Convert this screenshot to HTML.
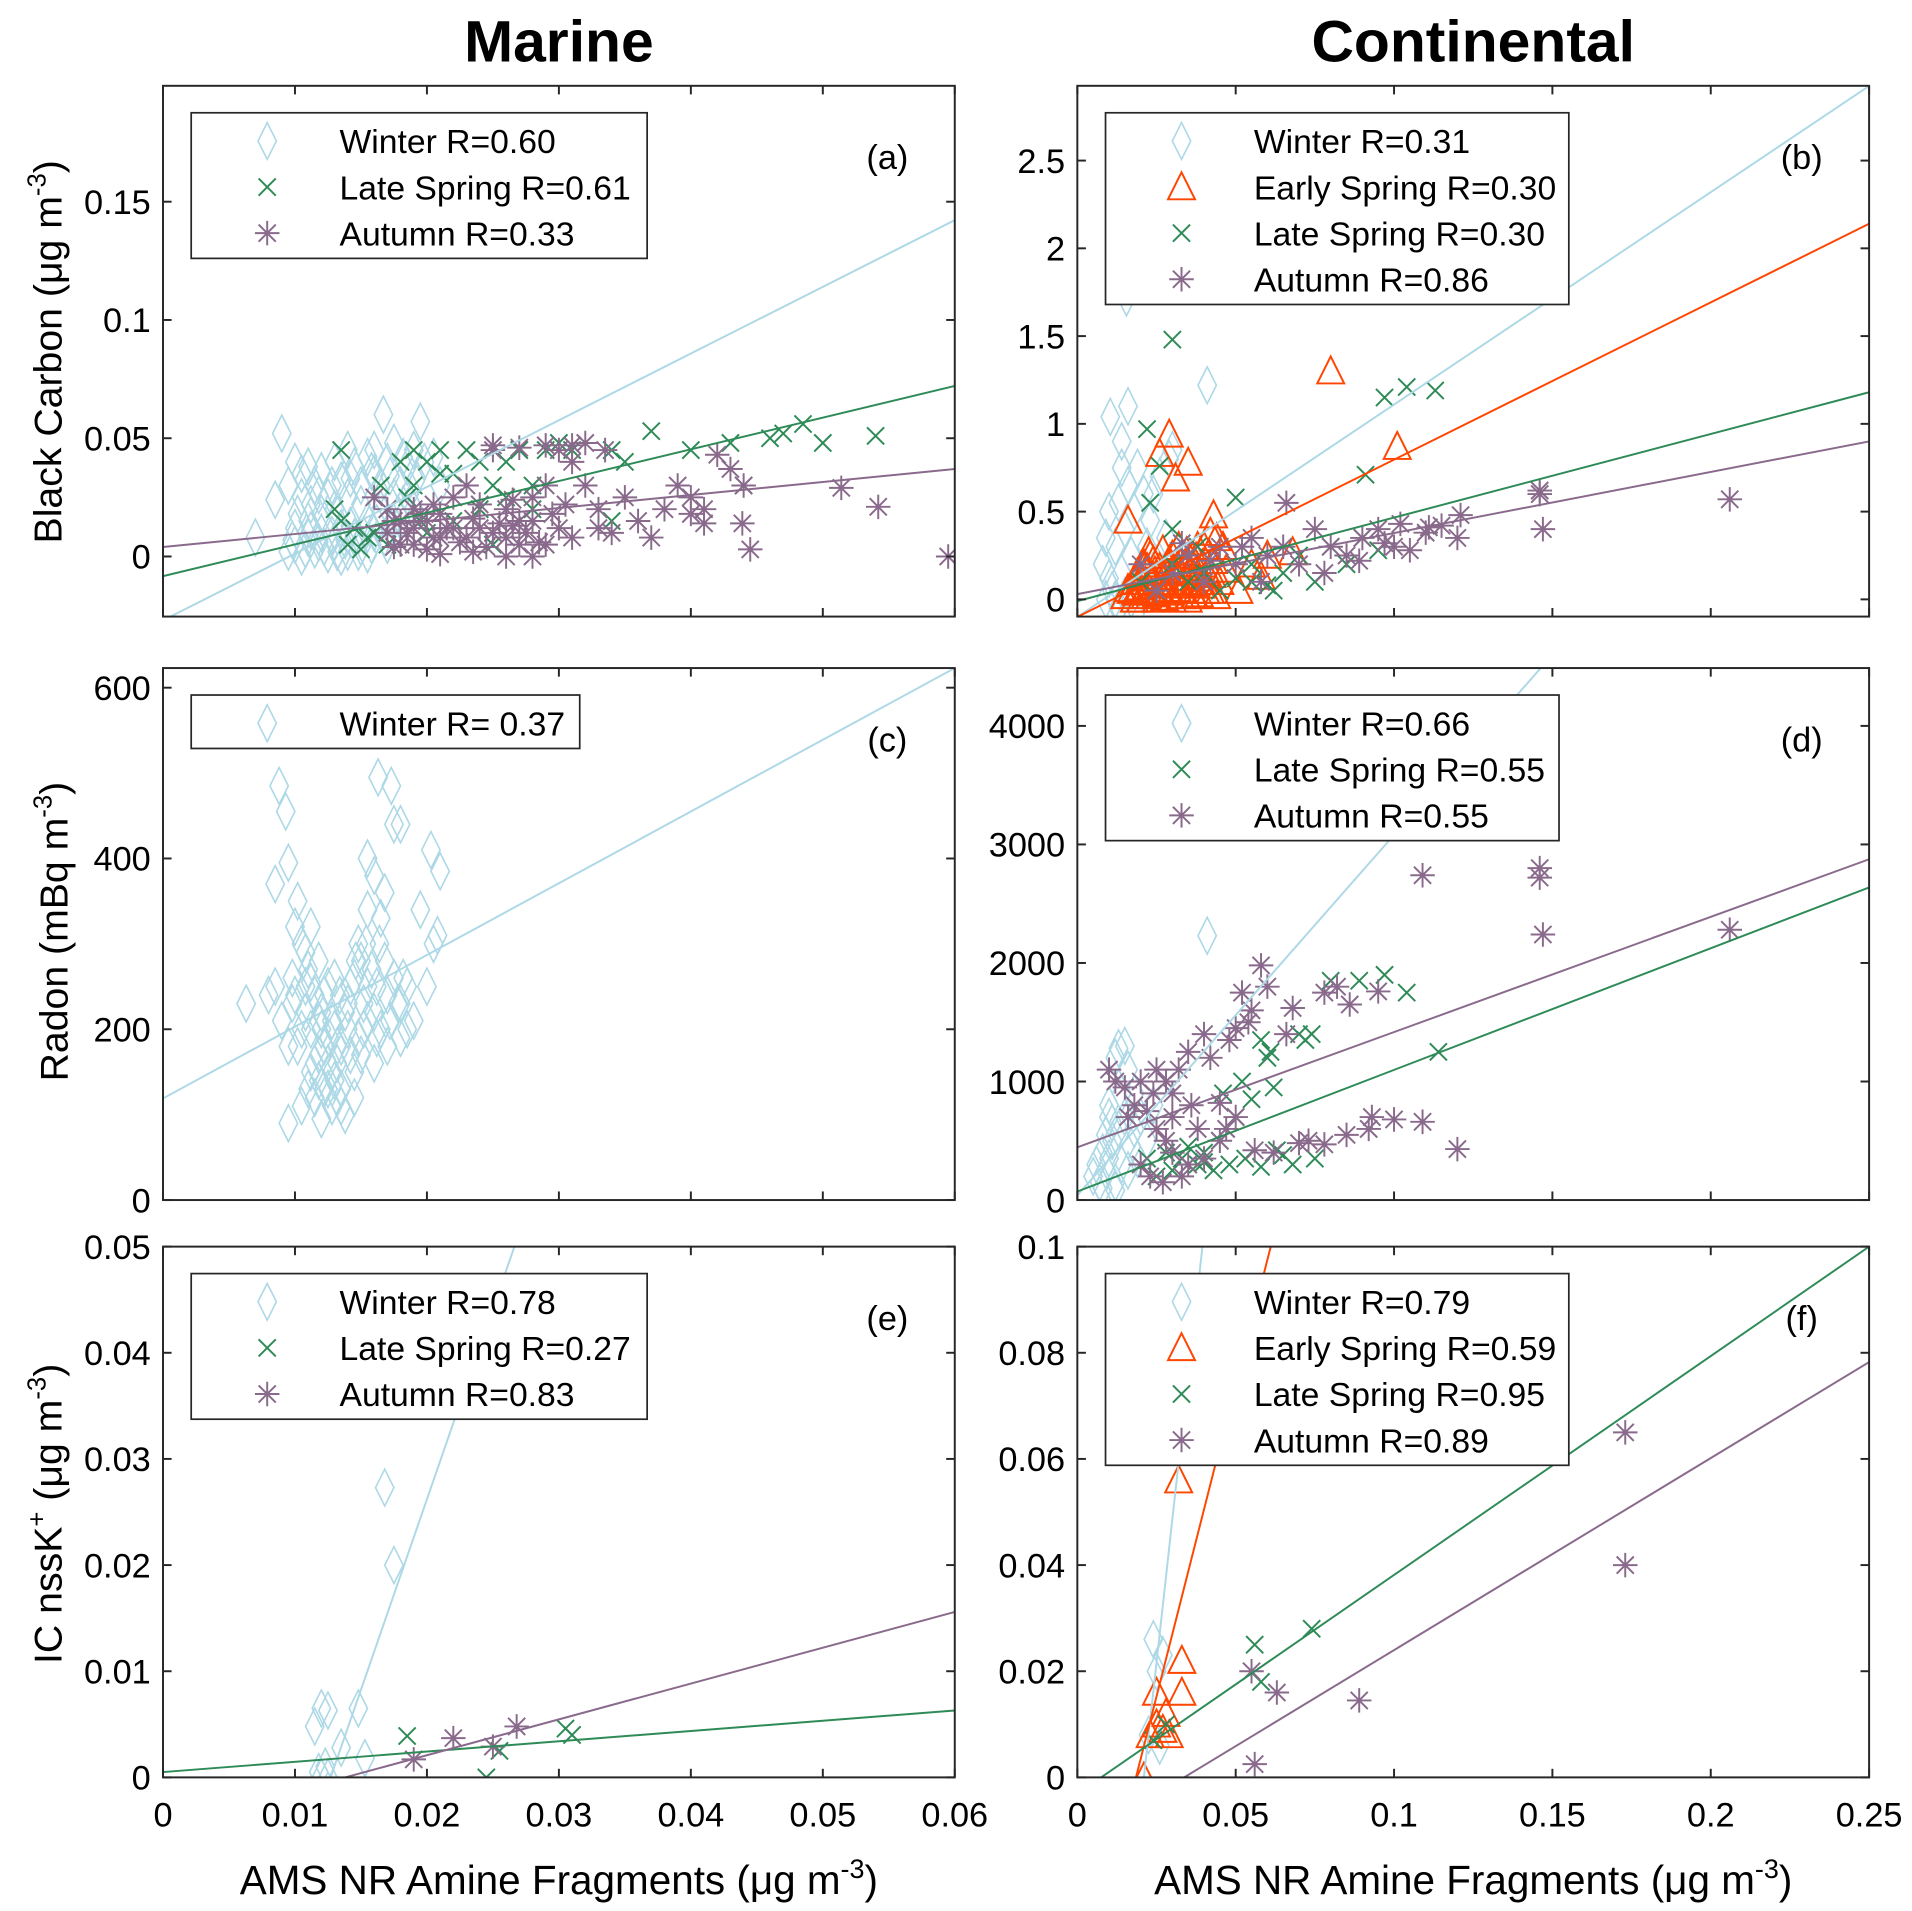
<!DOCTYPE html>
<html><head><meta charset="utf-8"><style>
html,body{margin:0;padding:0;background:#fff;width:1912px;height:1911px;overflow:hidden}
svg{display:block}
text{font-family:"Liberation Sans",Arial,sans-serif;fill:#000}
</style></head><body>
<svg id="fig" width="1912" height="1911" viewBox="0 0 1560 1559" preserveAspectRatio="none" xmlns="http://www.w3.org/2000/svg"></svg>
<script>
// ---------- DATA ----------
const aWinter=[[0.007,0.008],[0.009,0.052],[0.0085,0.024],[0.010,0.040],[0.0105,0.035],[0.011,0.038],[0.0115,0.030],[0.012,0.036],[0.0125,0.025],[0.013,0.040],[0.0135,0.032],[0.014,0.045],[0.0145,0.038],[0.015,0.030],[0.0155,0.042],[0.016,0.035],[0.0167,0.060],[0.017,0.040],[0.0175,0.048],[0.018,0.030],[0.0195,0.057],[0.019,0.045],[0.0205,0.042],[0.021,0.030],[0.0095,0.002],[0.010,0.005],[0.0105,0.0],[0.011,0.008],[0.0115,0.003],[0.012,0.010],[0.0125,0.001],[0.013,0.006],[0.0135,0.012],[0.014,0.002],[0.0145,0.008],[0.015,0.004],[0.0155,0.015],[0.016,0.010],[0.0165,0.020],[0.017,0.005],[0.0175,0.025],[0.018,0.015],[0.012,0.018],[0.011,0.015],[0.010,0.012],[0.013,0.020],[0.014,0.025],[0.015,0.022],[0.0105,0.025],[0.0095,0.030],[0.0165,0.030],[0.019,0.020],[0.0185,0.038],[0.0135,0.0],[0.0155,0.001],[0.016,0.045],[0.0098,0.007],[0.0108,0.003],[0.0112,0.011],[0.0118,0.006],[0.0122,0.004],[0.0128,0.009],[0.0132,0.002],[0.0138,0.007],[0.0142,0.013],[0.0148,0.002],[0.0152,0.009],[0.0158,0.005],[0.0162,0.014],[0.0168,0.008],[0.0172,0.012],[0.0178,0.018],[0.0182,0.022],[0.0188,0.028],[0.0192,0.033],[0.0198,0.040],[0.0112,0.022],[0.0128,0.030],[0.0142,0.033],[0.0158,0.036],[0.0172,0.034],[0.0182,0.042],[0.0102,0.018],[0.0118,0.026]];
const aSpring=[[0.0135,0.045],[0.013,0.02],[0.0135,0.015],[0.014,0.005],[0.015,0.003],[0.016,0.01],[0.017,0.02],[0.018,0.04],[0.019,0.03],[0.019,0.045],[0.020,0.04],[0.021,0.045],[0.022,0.035],[0.023,0.045],[0.024,0.02],[0.025,0.03],[0.026,0.04],[0.027,0.045],[0.028,0.03],[0.029,0.045],[0.030,0.048],[0.031,0.045],[0.034,0.045],[0.035,0.04],[0.034,0.015],[0.037,0.053],[0.040,0.045],[0.043,0.048],[0.044,0.03],[0.046,0.050],[0.047,0.052],[0.0485,0.056],[0.050,0.048],[0.054,0.051],[0.017,0.005],[0.020,0.01],[0.022,0.015],[0.025,0.005],[0.028,0.02],[0.0145,0.012],[0.0155,0.008],[0.0185,0.025],[0.021,0.035],[0.024,0.04],[0.026,0.025],[0.0165,0.03],[0.0195,0.015]];
const aAutumn=[[0.016,0.025],[0.017,0.01],[0.018,0.005],[0.019,0.02],[0.020,0.015],[0.021,0.008],[0.022,0.025],[0.023,0.03],[0.024,0.012],[0.025,0.045],[0.026,0.02],[0.027,0.005],[0.028,0.015],[0.029,0.03],[0.030,0.045],[0.031,0.04],[0.032,0.048],[0.033,0.02],[0.034,0.01],[0.035,0.025],[0.036,0.015],[0.038,0.02],[0.039,0.03],[0.040,0.025],[0.041,0.02],[0.042,0.043],[0.043,0.037],[0.041,0.014],[0.040,0.018],[0.044,0.030],[0.0445,0.003],[0.0439,0.014],[0.0514,0.029],[0.0542,0.021],[0.0595,0.0],[0.037,0.008],[0.033,0.012],[0.031,0.008],[0.029,0.005],[0.027,0.015],[0.025,0.01],[0.023,0.008],[0.021,0.018],[0.019,0.005],[0.018,0.015],[0.017,0.02],[0.020,0.003],[0.022,0.012],[0.024,0.022],[0.026,0.008],[0.028,0.025],[0.030,0.012],[0.032,0.03],[0.025,0.047],[0.027,0.046],[0.019,0.012],[0.021,0.001],[0.026,0.0],[0.028,0.0],[0.0175,0.015],[0.0185,0.01],[0.0195,0.018],[0.0205,0.022],[0.0215,0.012],[0.0225,0.006],[0.0235,0.016],[0.0245,0.004],[0.0255,0.014],[0.0265,0.024],[0.0275,0.01],[0.0285,0.006],[0.0295,0.018],[0.0305,0.022],[0.0175,0.004],[0.0205,0.008],[0.0235,0.002],[0.0265,0.013],[0.029,0.047],[0.031,0.047],[0.0335,0.045]];

const bWinter=[[0.0155,1.72],[0.041,1.22],[0.0104,1.04],[0.016,1.1],[0.014,0.9],[0.008,0.2],[0.009,0.35],[0.01,0.5],[0.012,0.3],[0.013,0.55],[0.014,0.15],[0.015,0.4],[0.016,0.65],[0.017,0.25],[0.018,0.5],[0.019,0.75],[0.02,0.1],[0.021,0.6],[0.022,0.3],[0.023,0.45],[0.024,0.05],[0.025,0.2],[0.026,0.7],[0.027,0.15],[0.028,0.35],[0.011,0.05],[0.012,0.0],[0.013,-0.05],[0.015,0.02],[0.017,0.0],[0.019,0.08],[0.021,0.02],[0.01,0.12],[0.009,0.0],[0.024,0.6],[0.029,0.8],[0.03,0.85],[0.014,0.75]];
const bEarly=[[0.080,1.30],[0.101,0.87],[0.029,0.94],[0.026,0.83],[0.031,0.69],[0.035,0.78],[0.016,0.45],[0.043,0.48],[0.058,0.13],[0.068,0.27],[0.047,0.17],[0.015,0.02],[0.017,0.05],[0.018,0.1],[0.019,0.15],[0.02,0.0],[0.021,0.2],[0.022,0.08],[0.023,0.25],[0.024,0.12],[0.025,0.03],[0.026,0.18],[0.027,0.28],[0.028,0.06],[0.029,0.22],[0.03,0.1],[0.031,0.15],[0.032,0.3],[0.033,0.05],[0.034,0.2],[0.035,0.12],[0.036,0.25],[0.037,0.02],[0.038,0.18],[0.039,0.08],[0.04,0.3],[0.041,0.15],[0.042,0.05],[0.043,0.22],[0.044,0.35],[0.045,0.1],[0.02,0.12],[0.022,0.18],[0.024,0.22],[0.026,0.05],[0.028,0.15],[0.03,0.25],[0.032,0.08],[0.034,0.12],[0.036,0.05],[0.038,0.3],[0.04,0.1],[0.018,0.0],[0.025,0.0],[0.03,0.0],[0.035,0.0],[0.042,0.38],[0.046,0.3],[0.051,0.05],[0.044,0.02],[0.06,0.25],[0.055,0.2],[0.016,0.06],[0.0185,0.04],[0.0195,0.07],[0.0215,0.1],[0.0235,0.04],[0.0245,0.16],[0.0265,0.09],[0.0275,0.13],[0.0285,0.2],[0.0295,0.04],[0.0305,0.17],[0.0315,0.06],[0.0325,0.22],[0.0335,0.1],[0.0345,0.27],[0.0355,0.16],[0.0365,0.09],[0.0375,0.24],[0.0385,0.12],[0.0395,0.2],[0.0405,0.05],[0.0415,0.26],[0.0425,0.14],[0.0215,0.02],[0.0275,0.01],[0.0325,0.02],[0.0385,0.03],[0.0205,0.2],[0.0225,0.27]];
const bLate=[[0.030,1.48],[0.097,1.15],[0.104,1.21],[0.113,1.19],[0.091,0.71],[0.022,0.97],[0.050,0.58],[0.026,0.76],[0.02,0.1],[0.025,0.05],[0.03,0.2],[0.035,0.1],[0.04,0.15],[0.045,0.05],[0.05,0.12],[0.055,0.2],[0.06,0.08],[0.065,0.15],[0.07,0.25],[0.075,0.1],[0.08,0.3],[0.085,0.2],[0.09,0.35],[0.095,0.28],[0.023,0.55],[0.03,0.4],[0.038,0.3],[0.055,0.1],[0.062,0.05]];
const bAutumn=[[0.146,0.62],[0.147,0.40],[0.206,0.57],[0.121,0.48],[0.111,0.41],[0.066,0.55],[0.02,0.2],[0.025,0.05],[0.03,0.15],[0.035,0.25],[0.04,0.1],[0.045,0.3],[0.05,0.2],[0.055,0.35],[0.06,0.25],[0.065,0.3],[0.07,0.2],[0.075,0.4],[0.08,0.3],[0.085,0.25],[0.09,0.35],[0.095,0.4],[0.1,0.3],[0.105,0.28],[0.11,0.38],[0.115,0.42],[0.12,0.35],[0.089,0.22],[0.078,0.15],[0.097,0.32],[0.102,0.43],[0.052,0.3],[0.058,0.1],[0.042,0.22],[0.033,0.32],[0.146,0.6]];

const cWinter=[[0.0063,230],[0.0085,370],[0.0088,485],[0.0093,455],[0.0095,395],[0.01,320],[0.0102,350],[0.0105,300],[0.011,270],[0.0112,255],[0.0115,240],[0.0118,210],[0.012,200],[0.0122,180],[0.0125,160],[0.0128,150],[0.013,140],[0.0132,120],[0.0135,110],[0.0138,100],[0.0095,90],[0.0105,110],[0.011,130],[0.0115,160],[0.012,220],[0.0125,250],[0.013,200],[0.0135,180],[0.014,230],[0.0145,260],[0.015,280],[0.0155,250],[0.016,220],[0.0165,200],[0.017,240],[0.0175,260],[0.018,230],[0.0185,200],[0.019,210],[0.02,250],[0.0205,300],[0.021,385],[0.0203,410],[0.018,440],[0.0163,495],[0.0173,485],[0.0175,440],[0.0155,400],[0.016,380],[0.0168,360],[0.0195,340],[0.0208,310],[0.0155,340],[0.0165,330],[0.0148,300],[0.008,240],[0.009,210],[0.0095,180],[0.01,240],[0.0105,200],[0.0085,250],[0.0125,130],[0.0115,120],[0.012,95],[0.0135,130],[0.0145,120],[0.0102,180],[0.0108,220],[0.0118,280],[0.013,260],[0.014,200],[0.015,170],[0.016,160],[0.017,180],[0.018,190],[0.0185,250],[0.0155,210],[0.0145,150],[0.0098,260],[0.0108,250],[0.0112,200],[0.0118,170],[0.0122,240],[0.0128,210],[0.0132,180],[0.0138,220],[0.0142,250],[0.0148,190],[0.0152,230],[0.0158,270],[0.0162,250],[0.0168,280],[0.0172,210],[0.0178,230],[0.0182,260],[0.0112,150],[0.0122,130],[0.0128,110],[0.0132,160],[0.0142,170],[0.0152,200],[0.0162,190],[0.0108,290],[0.0112,320],[0.0098,230],[0.0118,140],[0.0126,190],[0.0134,240],[0.0146,280],[0.0154,300],[0.0164,300]];

const dWinter=[[0.041,2230],[0.01,800],[0.012,1200],[0.013,1280],[0.015,1300],[0.014,900],[0.016,1100],[0.018,600],[0.005,200],[0.006,300],[0.007,150],[0.008,400],[0.009,250],[0.01,350],[0.011,500],[0.012,150],[0.013,600],[0.014,300],[0.015,700],[0.016,250],[0.017,450],[0.018,900],[0.019,350],[0.02,700],[0.022,500],[0.024,800],[0.008,100],[0.012,80],[0.01,700],[0.011,650],[0.009,550]];
const dLate=[[0.114,1250],[0.104,1750],[0.097,1900],[0.089,1850],[0.080,1850],[0.074,1400],[0.072,1350],[0.07,1400],[0.06,1200],[0.058,1350],[0.062,950],[0.055,850],[0.05,700],[0.045,500],[0.04,400],[0.035,300],[0.03,250],[0.025,200],[0.02,300],[0.022,350],[0.028,400],[0.033,350],[0.038,300],[0.043,250],[0.048,300],[0.053,350],[0.058,280],[0.063,420],[0.068,300],[0.075,350],[0.065,380],[0.061,1250],[0.046,900],[0.052,1000],[0.035,450],[0.04,320]];
const dAutumn=[[0.109,2740],[0.146,2800],[0.146,2720],[0.147,2240],[0.206,2280],[0.093,700],[0.109,660],[0.12,430],[0.1,680],[0.092,600],[0.085,550],[0.078,470],[0.07,480],[0.062,400],[0.056,420],[0.05,700],[0.045,820],[0.055,1600],[0.06,1800],[0.058,1980],[0.052,1750],[0.054,1500],[0.05,1450],[0.048,1350],[0.042,1200],[0.04,1400],[0.035,1250],[0.032,1100],[0.03,900],[0.028,1000],[0.025,1100],[0.02,1000],[0.01,1100],[0.015,950],[0.018,800],[0.022,750],[0.025,600],[0.028,500],[0.03,400],[0.035,300],[0.04,350],[0.045,500],[0.02,300],[0.023,200],[0.027,150],[0.033,200],[0.038,600],[0.047,600],[0.073,500],[0.012,1000],[0.016,700],[0.024,900],[0.03,700],[0.036,800],[0.068,1620],[0.066,1400],[0.078,1750],[0.082,1800],[0.086,1650],[0.095,1760]];

const eWinter=[[0.0115,0.0048],[0.012,0.0065],[0.0125,0.0063],[0.0125,0.0],[0.012,0.0],[0.0135,0.0028],[0.0148,0.0065],[0.0153,0.0018],[0.0168,0.0273],[0.0175,0.020],[0.0123,0.001],[0.0118,0.0005]];
const eLate=[[0.0185,0.0039],[0.0245,0.0],[0.0255,0.0025],[0.0305,0.0046],[0.031,0.004]];
const eAutumn=[[0.019,0.0017],[0.022,0.0037],[0.025,0.0029],[0.0268,0.0048]];

const fWinter=[[0.0225,0.008],[0.024,0.026],[0.025,0.020],[0.026,0.006],[0.027,0.023]];
const fEarly=[[0.021,0.0],[0.023,0.008],[0.025,0.010],[0.025,0.016],[0.027,0.009],[0.028,0.012],[0.029,0.008],[0.033,0.022],[0.033,0.016],[0.032,0.056]];
const fLate=[[0.024,0.007],[0.028,0.010],[0.056,0.025],[0.058,0.018],[0.074,0.028]];
const fAutumn=[[0.055,0.020],[0.056,0.0025],[0.063,0.016],[0.089,0.0145],[0.173,0.065],[0.173,0.040]];

// fitted lines: [intercept, slope]
const aFits={winter:[-0.027,2.82],late:[-0.0083,1.34],autumn:[0.004,0.55]};
const bFits={winter:[-0.1,12.1],early:[-0.1,8.96],late:[-0.01,4.76],autumn:[0.03,3.48]};
const cFits={winter:[119,8400]};
const dFits={winter:[40,30400],late:[72,10260],autumn:[445,9720]};
const eFits={winter:[-0.0456,3.59],late:[0.0005,0.0967],autumn:[-0.00466,0.3375]};
const fFits={winter:[-0.1135,5.405],early:[-0.0435,2.35],late:[-0.0031,0.4124],autumn:[-0.0122,0.3618]};

const xTicksA=[0,0.01,0.02,0.03,0.04,0.05,0.06];
const xTicksB=[0,0.05,0.1,0.15,0.2,0.25];
const xTickLabelsA=['0','0.01','0.02','0.03','0.04','0.05','0.06'];
const xTickLabelsB=['0','0.05','0.1','0.15','0.2','0.25'];

// ---------- DRAW ----------
const NS='http://www.w3.org/2000/svg';
const svg=document.getElementById('fig');
const COL={winter:'#add8e6',early:'#ff4500',late:'#2e8b57',autumn:'#8a6a8c'};
function mk(tag,attrs,parent){const e=document.createElementNS(NS,tag);for(const k in attrs)e.setAttribute(k,attrs[k]);(parent||svg).appendChild(e);return e;}
function txt(s,x,y,size,parent,anchor,weight){const t=mk('text',{x:x,y:y,'font-size':size,'text-anchor':anchor||'middle'},parent);if(weight)t.setAttribute('font-weight',weight);t.textContent=s;return t;}

function marker(g,kind,cx,cy){
  const c=COL[kind];let e;
  if(kind==='winter'){e=mk('path',{d:`M${cx},${cy-15}L${cx+7.5},${cy}L${cx},${cy+15}L${cx-7.5},${cy}Z`,fill:'none',stroke:c,'stroke-width':1.3},g);}
  else if(kind==='early'){e=mk('path',{d:`M${cx},${cy-12}L${cx+11},${cy+10}L${cx-11},${cy+10}Z`,fill:'none',stroke:c,'stroke-width':1.6},g);}
  else if(kind==='late'){e=mk('path',{d:`M${cx-7},${cy-7}L${cx+7},${cy+7}M${cx+7},${cy-7}L${cx-7},${cy+7}`,stroke:c,'stroke-width':1.6},g);}
  else {const r=10,d=7;e=mk('path',{d:`M${cx},${cy-r}V${cy+r}M${cx-r},${cy}H${cx+r}M${cx-d},${cy-d}L${cx+d},${cy+d}M${cx+d},${cy-d}L${cx-d},${cy+d}`,stroke:c,'stroke-width':1.6},g);}
  return e;
}

function panel(o){
  const g=mk('g',{});
  
  
  const X=v=>o.x0+(v-o.xmin)/(o.xmax-o.xmin)*(o.x1-o.x0);
  const Y=v=>o.y1-(v-o.ymin)/(o.ymax-o.ymin)*(o.y1-o.y0);
  const cid='clip-'+o.name;
  const cp=mk('clipPath',{id:cid},g);mk('rect',{x:o.x0,y:o.y0,width:o.x1-o.x0,height:o.y1-o.y0},cp);
  const plot=mk('g',{'clip-path':`url(#${cid})`},g);
  o.series.forEach(s=>{
    const sg=mk('g',{},plot);
    
    
    s.data.forEach(p=>{const m=marker(sg,s.kind,X(p[0]),Y(p[1]));
      
      });
  });
  Object.keys(o.fits).forEach(k=>{const f=o.fits[k];
    const l=mk('line',{x1:X(o.xmin),y1:Y(f[0]+f[1]*o.xmin),x2:X(o.xmax),y2:Y(f[0]+f[1]*o.xmax),stroke:COL[k],'stroke-width':1.6},plot);
    
    });
  const box=mk('rect',{x:o.x0,y:o.y0,width:o.x1-o.x0,height:o.y1-o.y0,fill:'none',stroke:'#262626','stroke-width':1.6},g);
  
  
  const tk=mk('g',{stroke:'#262626','stroke-width':1.6},g);
  o.xticks.forEach((v,i)=>{const x=X(v);
    mk('line',{x1:x,y1:o.y1,x2:x,y2:o.y1-7},tk);mk('line',{x1:x,y1:o.y0,x2:x,y2:o.y0+7},tk);
    if(o.xlabels){const t=txt(o.xlabels[i],x,o.y1+40,28,g);
      
      }});
  o.yticks.forEach((v,i)=>{const y=Y(v);
    mk('line',{x1:o.x0,y1:y,x2:o.x0+7,y2:y},tk);mk('line',{x1:o.x1,y1:y,x2:o.x1-7,y2:y},tk);
    const t=txt(o.ylabels[i],o.x0-10,y+10,28,g,'end');
    
    });
  const pl=txt(o.letter,o.x1-55,o.y0+68,28,g);
  
  
  const lg=mk('g',{},g);
  
  
  const lx=o.x0+23,ly=o.y0+22,n=o.legend.length;
  mk('rect',{x:lx,y:ly,width:o.legW,height:n*37.6+6,fill:'#fff',stroke:'#262626','stroke-width':1.4},lg);
  o.legend.forEach((e,i)=>{const cy=ly+23+i*37.6;
    marker(lg,e[0],lx+62,cy);
    const t=txt(e[1],lx+121,cy+10,27.5,lg,'start');
    
    });
}

const L=[133,779],R=[879,1525];
const rows=[[70,503],[545,979],[1017,1450]];
panel({name:'panel-a',x0:L[0],x1:L[1],y0:rows[0][0],y1:rows[0][1],xmin:0,xmax:0.06,ymin:-0.0254,ymax:0.199,xticks:xTicksA,yticks:[0,0.05,0.1,0.15],ylabels:['0','0.05','0.1','0.15'],letter:'(a)',
  series:[{kind:'winter',data:aWinter},{kind:'late',data:aSpring},{kind:'autumn',data:aAutumn}],fits:aFits,legW:372,
  legend:[['winter','Winter R=0.60'],['late','Late Spring R=0.61'],['autumn','Autumn R=0.33']]});
panel({name:'panel-b',x0:R[0],x1:R[1],y0:rows[0][0],y1:rows[0][1],xmin:0,xmax:0.25,ymin:-0.098,ymax:2.926,xticks:xTicksB,yticks:[0,0.5,1,1.5,2,2.5],ylabels:['0','0.5','1','1.5','2','2.5'],letter:'(b)',
  series:[{kind:'winter',data:bWinter},{kind:'early',data:bEarly},{kind:'late',data:bLate},{kind:'autumn',data:bAutumn}],fits:bFits,legW:378,
  legend:[['winter','Winter R=0.31'],['early','Early Spring R=0.30'],['late','Late Spring R=0.30'],['autumn','Autumn R=0.86']]});
panel({name:'panel-c',x0:L[0],x1:L[1],y0:rows[1][0],y1:rows[1][1],xmin:0,xmax:0.06,ymin:0,ymax:623,xticks:xTicksA,yticks:[0,200,400,600],ylabels:['0','200','400','600'],letter:'(c)',
  series:[{kind:'winter',data:cWinter}],fits:cFits,legW:317,
  legend:[['winter','Winter R= 0.37']]});
panel({name:'panel-d',x0:R[0],x1:R[1],y0:rows[1][0],y1:rows[1][1],xmin:0,xmax:0.25,ymin:0,ymax:4488,xticks:xTicksB,yticks:[0,1000,2000,3000,4000],ylabels:['0','1000','2000','3000','4000'],letter:'(d)',
  series:[{kind:'winter',data:dWinter},{kind:'late',data:dLate},{kind:'autumn',data:dAutumn}],fits:dFits,legW:370,
  legend:[['winter','Winter R=0.66'],['late','Late Spring R=0.55'],['autumn','Autumn R=0.55']]});
panel({name:'panel-e',x0:L[0],x1:L[1],y0:rows[2][0],y1:rows[2][1],xmin:0,xmax:0.06,ymin:0,ymax:0.05,xticks:xTicksA,xlabels:xTickLabelsA,yticks:[0,0.01,0.02,0.03,0.04,0.05],ylabels:['0','0.01','0.02','0.03','0.04','0.05'],letter:'(e)',
  series:[{kind:'winter',data:eWinter},{kind:'late',data:eLate},{kind:'autumn',data:eAutumn}],fits:eFits,legW:372,
  legend:[['winter','Winter R=0.78'],['late','Late Spring R=0.27'],['autumn','Autumn R=0.83']]});
panel({name:'panel-f',x0:R[0],x1:R[1],y0:rows[2][0],y1:rows[2][1],xmin:0,xmax:0.25,ymin:0,ymax:0.1,xticks:xTicksB,xlabels:xTickLabelsB,yticks:[0,0.02,0.04,0.06,0.08,0.1],ylabels:['0','0.02','0.04','0.06','0.08','0.1'],letter:'(f)',
  series:[{kind:'winter',data:fWinter},{kind:'early',data:fEarly},{kind:'late',data:fLate},{kind:'autumn',data:fAutumn}],fits:fFits,legW:378,
  legend:[['winter','Winter R=0.79'],['early','Early Spring R=0.59'],['late','Late Spring R=0.95'],['autumn','Autumn R=0.89']]});

let t;
t=txt('Marine',456,50,48,svg,'middle','bold');


t=txt('Continental',1202,50,48,svg,'middle','bold');



function ylab(parts,cx,cy,name){
  const e=mk('text',{transform:`translate(${cx},${cy}) rotate(-90)`,'font-size':32,'text-anchor':'middle'});
  e.innerHTML=parts;
  
  
}
ylab('Black Carbon (μg m<tspan dy="-13" font-size="21">-3</tspan><tspan dy="13">)</tspan>',50,287,'y-axis-title-black-carbon');
ylab('Radon (mBq m<tspan dy="-13" font-size="21">-3</tspan><tspan dy="13">)</tspan>',55,760,'y-axis-title-radon');
ylab('IC nssK<tspan dy="-13" font-size="21">+</tspan><tspan dy="13"> (μg m</tspan><tspan dy="-13" font-size="21">-3</tspan><tspan dy="13">)</tspan>',50,1235,'y-axis-title-nssk');
function xlab(cx,name){
  const e=mk('text',{x:cx,y:1545,'font-size':33,'text-anchor':'middle'});
  e.innerHTML='AMS NR Amine Fragments (μg m<tspan dy="-13" font-size="22">-3</tspan><tspan dy="13">)</tspan>';
  
  
}
xlab(456,'x-axis-title-marine');
xlab(1202,'x-axis-title-continental');
</script>
</body></html>
